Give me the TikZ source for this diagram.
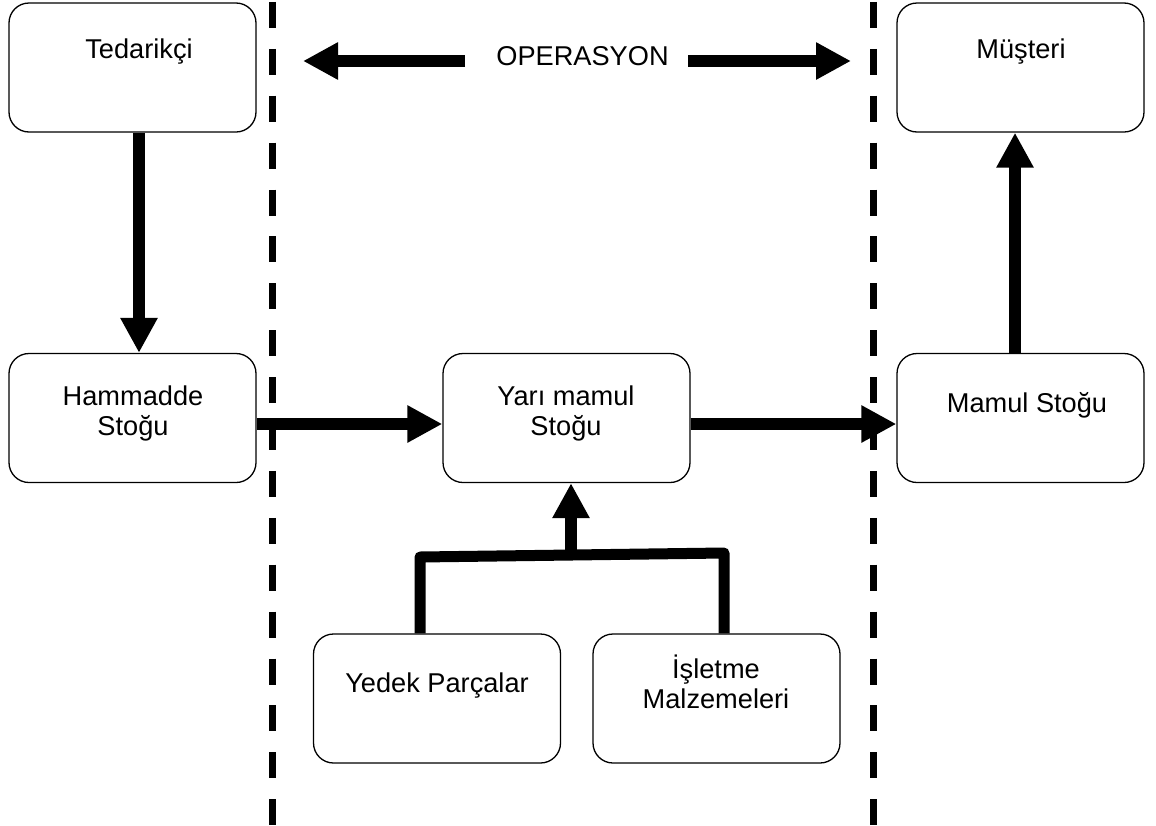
\documentclass[tikz,border=0pt]{standalone}
\usepackage{fontspec}
\setmainfont{Liberation Sans}
\usetikzlibrary{arrows.meta}

\tikzset{
  box/.style={draw=black, line width=1.3pt, rounded corners=20pt,
    minimum width=247pt, minimum height=129pt, inner sep=0pt, fill=white},
  lbl/.style={anchor=base, inner sep=0pt, align=center,
    font=\fontsize{27.2}{30}\selectfont},
  flow/.style={line width=12pt, -{Triangle[length=35pt, width=35pt]}},
  bracket/.style={line width=11pt, line join=round},
  border/.style={line width=7pt, dash pattern=on 26pt off 20.9pt, dash phase=45pt}
}

\begin{document}
\begin{tikzpicture}[x=1pt, y=-1pt]
  \useasboundingbox (0,0) rectangle (1156,825);

  % zone borders
  \draw[border] (272,0) -- (272,825);
  \draw[border] (873,0) -- (873,825);

  % stock and partner boxes
  \node[box] (ted)  at (132.5,67.5) {};
  \node[box] (mus)  at (1020.5,67.5) {};
  \node[box] (ham)  at (132.5,418) {};
  \node[box] (yari) at (566.5,418) {};
  \node[box] (mam)  at (1020.5,418) {};
  \node[box] (yed)  at (437,698.5) {};
  \node[box] (isl)  at (716.5,698.5) {};

  % labels (multi-line labels sit on the baseline of their last line)
  \node[lbl] (tedtxt)  at (139,58)    {Tedarikçi};
  \node[lbl] (mustxt)  at (1021,58)   {Müşteri};
  \node[lbl] (hamtxt)  at (133,435)   {Hammadde\\Stoğu};
  \node[lbl] (yaritxt) at (566,435)   {Yarı mamul\\Stoğu};
  \node[lbl] (mamtxt)  at (1027,412)  {Mamul Stoğu};
  \node[lbl] (yedtxt)  at (437,692)   {Yedek Parçalar};
  \node[lbl] (isltxt)  at (716,708)   {İşletme\\Malzemeleri};
  \node[lbl] (op)      at (582.5,65)  {OPERASYON};

  % operation span arrows
  \coordinate (opLs) at (465,61);
  \coordinate (opLe) at (303,61);
  \coordinate (opRs) at (688,61);
  \coordinate (opRe) at (851,61);
  \draw[flow] (opLs) -- (opLe);
  \draw[flow] (opRs) -- (opRe);

  % material flow
  \draw[flow] (ted.south -| tedtxt) -- (ham.north -| tedtxt);
  \draw[flow] ([yshift=-6pt]ham.east) -- ([yshift=-6pt]yari.west);
  \draw[flow] ([yshift=-6pt]yari.east) -- ([yshift=-6pt]mam.west);
  \draw[flow] ([xshift=-5.5pt]mam.north) -- ([xshift=-5.5pt]mus.south);

  % supplies feeding the work-in-process stock
  \coordinate (bl) at (420,557);
  \coordinate (br) at (724,553);
  \coordinate (jn) at (571,555);
  \draw[bracket] ([xshift=-17pt]yed.north) -- (bl) -- (br) -- ([xshift=7.5pt]isl.north);
  \draw[flow] (jn) -- (yari.south -| jn);
\end{tikzpicture}
\end{document}
